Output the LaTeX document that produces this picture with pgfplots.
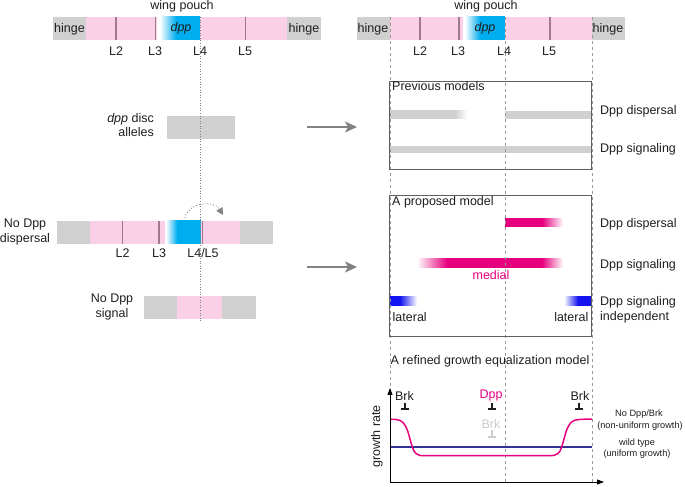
\documentclass[border=0pt]{standalone}
\usepackage{pgfplots}
\pgfplotsset{compat=1.18}
\usepackage{fontspec}
\setmainfont{Liberation Sans}
\usetikzlibrary{arrows.meta}
\definecolor{pinkv}{RGB}{250,208,230}
\definecolor{grayh}{RGB}{208,208,208}
\definecolor{cyandpp}{RGB}{0,174,239}
\definecolor{vein}{RGB}{160,120,145}
\definecolor{magentax}{RGB}{230,0,126}
\definecolor{bluex}{RGB}{20,20,240}
\definecolor{navyline}{RGB}{50,50,150}
\definecolor{boxgray}{RGB}{95,95,95}
\definecolor{arrowgray}{RGB}{130,130,130}
\definecolor{txt}{RGB}{30,30,30}
\pgfdeclarehorizontalshading{shTL}{100bp}{color(0bp)=(white); color(25bp)=(white); color(45bp)=(cyandpp); color(100bp)=(cyandpp)}
\pgfdeclarehorizontalshading{shTR}{100bp}{color(0bp)=(white); color(25bp)=(white); color(43.75bp)=(cyandpp); color(100bp)=(cyandpp)}
\pgfdeclarehorizontalshading{shND}{100bp}{color(0bp)=(white); color(25bp)=(white); color(40.7bp)=(cyandpp); color(100bp)=(cyandpp)}
\pgfdeclarehorizontalshading{shPG}{100bp}{color(0bp)=(grayh); color(67.2bp)=(grayh); color(75bp)=(white); color(100bp)=(white)}
\pgfdeclarehorizontalshading{shDM}{100bp}{color(0bp)=(magentax); color(56.9bp)=(magentax); color(75bp)=(white); color(100bp)=(white)}
\pgfdeclarehorizontalshading{shSM}{100bp}{color(0bp)=(white); color(25bp)=(white); color(35.3bp)=(magentax); color(67.8bp)=(magentax); color(75bp)=(white); color(100bp)=(white)}
\pgfdeclarehorizontalshading{shBL}{100bp}{color(0bp)=(bluex); color(43.5bp)=(bluex); color(75bp)=(white); color(100bp)=(white)}
\pgfdeclarehorizontalshading{shBR}{100bp}{color(0bp)=(white); color(25bp)=(white); color(50.9bp)=(bluex); color(100bp)=(bluex)}
\newcommand{\lbl}{\fontsize{12.5bp}{14bp}\selectfont}
\newcommand{\sml}{\fontsize{9.2bp}{11bp}\selectfont}
\newcommand{\bx}[5]{\addplot[draw=none,fill=#5] coordinates {(#1,#2) (#3,#2) (#3,#4) (#1,#4)} -- cycle;}
\newcommand{\gx}[5]{\addplot[draw=none,shading=#5] coordinates {(#1,#2) (#3,#2) (#3,#4) (#1,#4)} -- cycle;}
\newcommand{\vn}[3]{\addplot[vein,line width=1.1bp] coordinates {(#1,#2) (#1,#3)};}
\newcommand{\dl}[1]{\addplot[gray!80,dash pattern=on 3bp off 3bp,line width=0.5bp] coordinates {(#1,17) (#1,482)};}
\begin{document}
\begin{tikzpicture}
\begin{axis}[width=685bp,height=487bp,scale only axis,xmin=0,xmax=685,ymin=0,ymax=487,
  y dir=reverse,hide axis,clip=false]
\addplot[draw=none] coordinates {(0,0) (685,487)};
% ---------- top-left bar
\bx{53}{17}{86}{40}{grayh}
\bx{86}{17}{157}{40}{pinkv}
\gx{160}{17}{200}{40}{shTL}
\bx{200}{17}{287}{40}{pinkv}
\bx{287}{17}{321}{40}{grayh}
\vn{116}{17}{40}
\vn{155.5}{17}{40}
\vn{245.5}{17}{40}
% ---------- top-right bar
\bx{357}{17}{390}{40}{grayh}
\bx{390}{17}{463}{40}{pinkv}
\gx{465}{17}{505}{40}{shTR}
\bx{505}{17}{592}{40}{pinkv}
\bx{592}{17}{625}{40}{grayh}
\vn{420}{17}{40}
\vn{459}{17}{40}
\vn{550}{17}{40}
% ---------- dpp disc alleles
\bx{167}{116}{235}{139}{grayh}
% ---------- no Dpp dispersal
\bx{57}{221}{90}{244}{grayh}
\bx{90}{221}{165}{244}{pinkv}
\gx{166}{221}{201}{244}{shND}
\bx{201}{221}{240}{244}{pinkv}
\bx{240}{221}{273}{244}{grayh}
\vn{122.5}{221}{244}
\vn{159}{221}{244}
\vn{202.5}{221}{244}
% ---------- no Dpp signal
\bx{144}{296}{177}{319}{grayh}
\bx{177}{296}{222}{319}{pinkv}
\bx{222}{296}{256}{319}{grayh}
% ---------- previous models
\gx{390}{111}{467}{119}{shPG}
\bx{505}{111}{591}{119}{grayh}
\bx{390}{146}{591}{153}{grayh}
% ---------- proposed model
\gx{505}{219}{563}{227}{shDM}
\gx{417}{259}{563}{268}{shSM}
\gx{390}{297}{417}{306}{shBL}
\gx{564}{297}{591}{306}{shBR}
% ---------- guide lines
\addplot[gray,dotted,line width=0.6bp] coordinates {(200,17) (200,322)};
\dl{390}
\dl{505}
\dl{592}
% ---------- boxes
\draw[boxgray,line width=0.9bp] (axis cs:389,81) rectangle (axis cs:591,169);
\draw[boxgray,line width=0.9bp] (axis cs:389,195) rectangle (axis cs:591,336);
% ---------- arrows
\draw[arrowgray,line width=1.2bp,-{Stealth[length=12bp,width=11bp,inset=3bp]}] (axis cs:307,127) -- (axis cs:357,127);
\draw[arrowgray,line width=1.2bp,-{Stealth[length=12bp,width=11bp,inset=3bp]}] (axis cs:307,267) -- (axis cs:357,267);
\draw[arrowgray,dotted,line width=0.9bp,-{Triangle[length=7bp,width=7bp]}] (axis cs:185,218) .. controls (axis cs:188,202) and (axis cs:214,200) .. (axis cs:223,215);
% ---------- growth plot
\addplot[navyline,line width=1.3bp] coordinates {(390,447) (592,447)};
\addplot[magentax,line width=1.5bp,smooth,tension=0.4] coordinates {
(390,419.2) (396,419.5) (400,420.5) (403,422.5) (406,427) (408,432) (410,439) (412,446) (414,451) (416,453.5) (419,455) (425,455.6)
(500,455.6) (549,455.6) (555,455) (558,453.5) (560,451) (562,446) (564,439) (566,432) (568,427) (571,422.5) (574,420.5) (579,419.5) (585,419.2) (592,419.2)};
\draw[black,line width=0.8bp,-{Triangle[length=7bp,width=5bp]}] (axis cs:390,482) -- (axis cs:390,388);
\draw[black,line width=0.8bp,-{Triangle[length=7bp,width=5bp]}] (axis cs:390,482) -- (axis cs:604,482);
\draw[txt,line width=1.1bp] (axis cs:405,403) -- (axis cs:405,409) (axis cs:401,409) -- (axis cs:409,409);
\draw[txt,line width=1.1bp] (axis cs:492,403) -- (axis cs:492,409) (axis cs:488,409) -- (axis cs:496,409);
\draw[txt,line width=1.1bp] (axis cs:579,403) -- (axis cs:579,409) (axis cs:575,409) -- (axis cs:583,409);
\draw[gray!40,line width=1.1bp] (axis cs:492,430) -- (axis cs:492,437) (axis cs:488,437) -- (axis cs:496,437);
% ---------- texts
\begin{scope}[every node/.style={inner sep=0pt,text=txt,font=\lbl,anchor=base}]
\node at (axis cs:182,10) {wing pouch};
\node at (axis cs:486,10) {wing pouch};
\node at (axis cs:69.5,33) {hinge};
\node at (axis cs:304,33) {hinge};
\node at (axis cs:373,33) {hinge};
\node at (axis cs:608,33) {hinge};
\node at (axis cs:181,32) {\itshape dpp};
\node at (axis cs:485,32) {\itshape dpp};
\node at (axis cs:116,56) {L2};
\node at (axis cs:155,56) {L3};
\node at (axis cs:200,56) {L4};
\node at (axis cs:245,56) {L5};
\node at (axis cs:420,56) {L2};
\node at (axis cs:458,56) {L3};
\node at (axis cs:504,56) {L4};
\node at (axis cs:549,56) {L5};
\node[anchor=base east] at (axis cs:154,123) {\itshape dpp\upshape{} disc};
\node[anchor=base east] at (axis cs:154,137) {alleles};
\node at (axis cs:25,228) {No Dpp};
\node at (axis cs:25,243) {dispersal};
\node at (axis cs:122.5,258) {L2};
\node at (axis cs:159,258) {L3};
\node at (axis cs:203,258) {L4/L5};
\node at (axis cs:112,303) {No Dpp};
\node at (axis cs:112,318) {signal};
\node[anchor=base west] at (axis cs:392,91) {Previous models};
\node[anchor=base west] at (axis cs:600,115) {Dpp dispersal};
\node[anchor=base west] at (axis cs:600,153) {Dpp signaling};
\node[anchor=base west] at (axis cs:392,206) {A proposed model};
\node[anchor=base west] at (axis cs:600,228) {Dpp dispersal};
\node[anchor=base west] at (axis cs:600,269) {Dpp signaling};
\node[anchor=base west] at (axis cs:600,305.5) {Dpp signaling};
\node[anchor=base west] at (axis cs:600,320.5) {independent};
\node[text=magentax] at (axis cs:491,280) {medial};
\node[anchor=base west] at (axis cs:392.5,321.5) {lateral};
\node[anchor=base east] at (axis cs:588.5,321.5) {lateral};
\node at (axis cs:490,365) {A refined growth equalization model};
\node at (axis cs:404.5,400.5) {Brk};
\node[text=magentax] at (axis cs:491,398.5) {Dpp};
\node at (axis cs:580,400.5) {Brk};
\node[text=gray!40] at (axis cs:491,428.5) {Brk};
\node[rotate=90,anchor=center] at (axis cs:377,436.5) {growth rate};
\node[font=\sml] at (axis cs:639,416.5) {No Dpp/Brk};
\node[font=\sml] at (axis cs:640,428.5) {(non-uniform growth)};
\node[font=\sml] at (axis cs:637,446) {wild type};
\node[font=\sml] at (axis cs:637,456.5) {(uniform growth)};
\end{scope}
\end{axis}
\end{tikzpicture}
\end{document}
